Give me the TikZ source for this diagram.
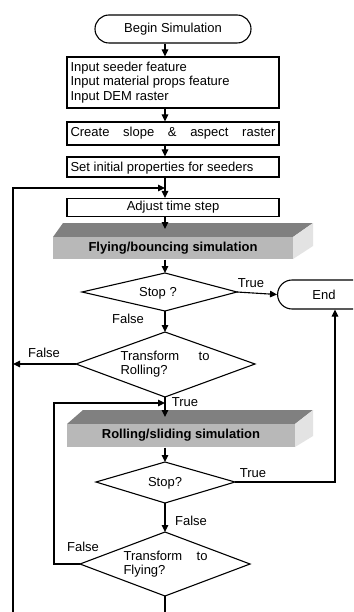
\documentclass[tikz,border=0pt]{standalone}
\usepackage{fontspec}
\setmainfont{Liberation Sans}
\usetikzlibrary{arrows.meta,shapes.misc}
\newcommand{\fs}{\fontsize{13}{14.5}\selectfont}
\begin{document}
\begin{tikzpicture}[x=1pt,y=-1pt,
  line width=1.1pt,
  every node/.style={font=\fs, inner sep=0pt},
  arr/.style={-{Triangle[length=7pt,width=6.5pt]}},
  box/.style={draw, rectangle, fill=white},
  term/.style={draw, rounded rectangle, fill=white},
  topface/.style={fill=black!50},
  frontface/.style={fill=black!28},
  sideface/.style={fill=black!11},
  lbl/.style={font=\fs}]
\useasboundingbox (0,0) rectangle (353,612);
\clip (0,0) rectangle (353,612);
\fill[white] (0,0) rectangle (353,612);
\coordinate (m) at (165,0);
% start
\node[term, minimum width=156pt, minimum height=28pt] (begin) at (173,29) {Begin Simulation};
\node[box, minimum width=212pt, minimum height=51pt] (b2) at (173,82.5) {};
\node[anchor=west, align=left] (b2t) at (70,82.5) {Input seeder feature\\Input material props feature\\Input DEM raster};
\node[box, minimum width=212pt, minimum height=23pt] (b3) at (173,133.5) {\makebox[205pt][s]{Create slope \& aspect raster}};
\node[box, minimum width=212pt, minimum height=20pt] (b4) at (173,167) {};
\node[anchor=west] (b4t) at (70,168) {Set initial properties for seeders};
\node[box, minimum width=212pt, minimum height=18pt] (b5) at (173,207.5) {Adjust time step};
% flying 3D box
\fill[topface] (53,237) -- (63,223) -- (313,223) -- (293,237) -- cycle;
\fill[sideface] (293,237) -- (313,223) -- (313,246) -- (293,259) -- cycle;
\node[rectangle, frontface, minimum width=240pt, minimum height=22pt] (fly) at (173,248) {\textbf{Flying/bouncing simulation}};
\coordinate (flytop) at (165,229);
% stop 1
\coordinate (s1t) at (165,273);
\coordinate (s1l) at (82,292);
\coordinate (s1r) at (237,292);
\coordinate (s1b) at (165,311);
\draw (s1t) -- (s1r) -- (s1b) -- (s1l) -- cycle;
\node (s1txt) at (158,293) {Stop ?};
% end
\node[draw, rounded rectangle, rounded rectangle right arc=none, minimum width=92pt, minimum height=29pt, fill=white] (end) at (324,294.5) {End};
% transform to rolling
\coordinate (t1t) at (165,332);
\coordinate (t1l) at (76,364);
\coordinate (t1r) at (255,364);
\coordinate (t1b) at (165,397);
\draw (t1t) -- (t1r) -- (t1b) -- (t1l) -- cycle;
\node[anchor=west, align=left] (t1txt) at (120,364) {\makebox[89pt][s]{Transform to}\\Rolling?};
% rolling 3D box
\fill[topface] (67,424) -- (83,410) -- (313,410) -- (295,424) -- cycle;
\fill[sideface] (295,424) -- (313,410) -- (313,436) -- (295,447) -- cycle;
\node[rectangle, frontface, minimum width=228pt, minimum height=23pt] (roll) at (181,435.5) {\textbf{Rolling/sliding simulation}};
\coordinate (rolltop) at (165,417);
% stop 2
\coordinate (s2t) at (165,462);
\coordinate (s2l) at (96,482);
\coordinate (s2r) at (235,482);
\coordinate (s2b) at (165,503);
\draw (s2t) -- (s2r) -- (s2b) -- (s2l) -- cycle;
\node (s2txt) at (165,483) {Stop?};
% transform to flying
\coordinate (t2t) at (165,532);
\coordinate (t2l) at (80,564);
\coordinate (t2r) at (250,564);
\coordinate (t2b) at (165,596);
\draw (t2t) -- (t2r) -- (t2b) -- (t2l) -- cycle;
\node[anchor=west, align=left] (t2txt) at (123,564) {\makebox[84pt][s]{Transform to}\\Flying?};
% loop coordinates
\coordinate (L1) at (13,188);
\coordinate (Lbot) at (13,612);
\coordinate (L2) at (54,403);
\coordinate (R) at (335,482);
% connectors
\draw[arr] (begin.south -| m) -- (b2.north -| m);
\draw[arr] (b2.south -| m) -- (b3.north -| m);
\draw[arr] (b3.south -| m) -- (b4.north -| m);
\draw[arr] (b4.south -| m) -- (b5.north -| m);
\draw[arr] (Lbot) -- (L1) -- (L1 -| m);
\draw[arr] (b5.south -| m) -- (flytop);
\draw[arr] (fly.south -| m) -- (s1t);
\draw[arr] (s1r) -- (end.west);
\draw[arr] (s1b) -- (t1t);
\draw[arr] (t1l) -- (t1l -| L1);
\draw[arr] (t1b) -- (rolltop);
\draw[arr] (t2l) -- (t2l -| L2) -- (L2) -- (L2 -| m);
\draw[arr] (roll.south -| m) -- (s2t);
\draw[arr] (s2r) -- (R) -- (R |- end.south);
\draw[arr] (s2b) -- (t2t);
\draw (t2b) -- (t2b |- Lbot);
% labels
\node[lbl] (lT1) at (251,283) {True};
\node[lbl] (lF1) at (128,319) {False};
\node[lbl] (lF2) at (44,353) {False};
\node[lbl] (lT2) at (185,402) {True};
\node[lbl] (lT3) at (253,473) {True};
\node[lbl] (lF3) at (191,521) {False};
\node[lbl] (lF4) at (83,547) {False};
\end{tikzpicture}
\end{document}
